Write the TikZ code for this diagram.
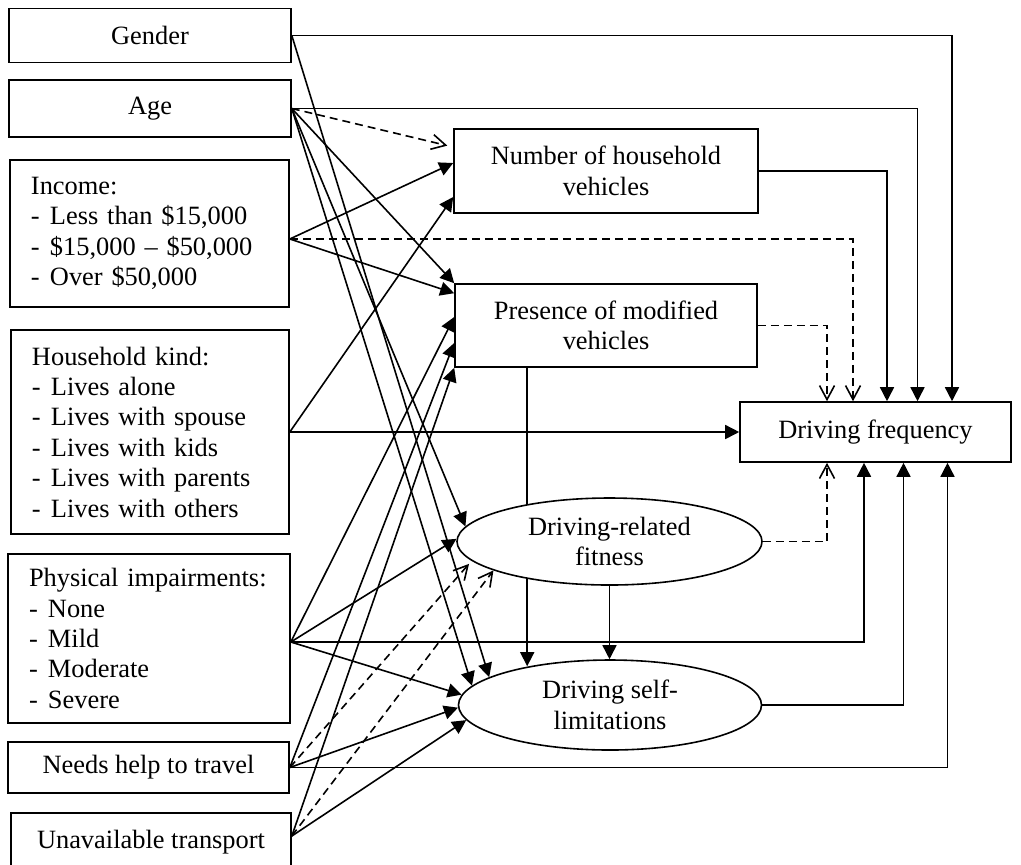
\documentclass[tikz,border=0pt]{standalone}
\usepackage{fontspec}
\setmainfont{Liberation Serif}
\usetikzlibrary{arrows.meta,shapes.geometric,backgrounds}
\newcommand{\dashitem}{\makebox[9.5pt][l]{-}}

\begin{document}
\begin{tikzpicture}[x=0.5pt,y=-0.5pt,
  font=\fontsize{13.2}{15.2}\selectfont,
  box/.style={draw,line width=0.8pt,minimum width=141pt,minimum height=27pt,inner sep=0pt,align=center},
  listbox/.style={draw,line width=0.8pt,inner xsep=10.5pt,inner ysep=0pt,align=left},
  oval/.style={draw,ellipse,line width=0.8pt,fill=white,inner sep=0pt,align=center},
  arr/.style={line width=0.8pt,-{Triangle[length=7pt,width=7pt]}},
  darr/.style={line width=0.8pt,dash pattern=on 4pt off 2.5pt,-{Straight Barb[length=7pt,width=7.5pt]}}]
\clip (0,0) rectangle (1021,864);
% left column
\node[box] (gender) at (150,35.5) {Gender};
\node[box,minimum height=28.5pt] (age) at (150,108.5) {Age};
\node[listbox,text width=118.5pt,minimum height=73.5pt] (income) at (149.5,233.5)
  {Income:\\\dashitem Less than \$15,000\\\dashitem \$15,000 -- \$50,000\\\dashitem Over \$50,000};
\node[listbox,text width=118pt,minimum height=102pt] (household) at (150,432)
  {Household kind:\\\dashitem Lives alone\\\dashitem Lives with spouse\\\dashitem Lives with kids\\\dashitem Lives with parents\\\dashitem Lives with others};
\node[listbox,text width=120pt,minimum height=84.5pt] (physical) at (149,638.5)
  {Physical impairments:\\\dashitem None\\\dashitem Mild\\\dashitem Moderate\\\dashitem Severe};
\node[box,minimum width=140.5pt,minimum height=25.5pt] (help) at (148.5,767.5) {Needs help to travel};
\node[box,minimum width=140pt,minimum height=29pt] (transport) at (151,842) {Unavailable transport};
% middle and right
\node[box,minimum width=152pt,minimum height=42pt] (vehicles) at (606,171) {Number of household\\vehicles};
\node[box,minimum width=151pt,minimum height=41.5pt] (modified) at (606,325.5) {Presence of modified\\vehicles};
\node[oval,minimum width=152.5pt,minimum height=43.5pt] (fitness) at (609.5,541.5) {Driving-related\\fitness};
\node[oval,minimum width=151.5pt,minimum height=45pt] (selflim) at (610,705) {Driving self-\\limitations};
\node[box,minimum width=135.5pt,minimum height=30pt] (frequency) at (875.5,432) {Driving frequency};

\coordinate (inc) at ([yshift=-2.75pt]income.east);
\coordinate (phys) at ([yshift=-1.75pt]physical.east);
\coordinate (trans) at ([yshift=3pt]transport.east);
\coordinate (drop) at ([xshift=36.5pt]modified.south west);

\begin{scope}[on background layer]
% into driving frequency
\draw[arr] (gender.east) -| ([xshift=38.25pt]frequency.north);
\draw[arr] (age.east) -| ([xshift=21pt]frequency.north);
\draw[arr] (vehicles.east) -| ([xshift=5.75pt]frequency.north);
\draw[darr] (inc) -| ([xshift=-11.25pt]frequency.north);
\draw[darr] (modified.east) -| ([xshift=-24.25pt]frequency.north);
\draw[arr] (household.east) -- (frequency.west);
\draw[darr] (fitness.east) -| ([xshift=-24.25pt]frequency.south);
\draw[arr] (phys) -| ([xshift=-5.75pt]frequency.south);
\draw[arr] (selflim.east) -| ([xshift=14pt]frequency.south);
\draw[arr] (help.east) -| ([xshift=36pt]frequency.south);
% into the vehicle boxes
\draw[darr,shorten >=3pt] (age.east) -- ([yshift=12pt]vehicles.west);
\draw[arr] (inc) -- ([yshift=4pt]vehicles.west);
\draw[arr] (household.east) -- ([yshift=-13pt]vehicles.west);
\draw[arr] (age.east) -- (modified.north west);
\draw[arr] (inc) -- ([yshift=-5pt]modified.north west);
\draw[arr] (phys) -- ([yshift=4.25pt]modified.west);
\draw[arr] (help.east) -- ([yshift=-8.75pt]modified.west);
\draw[arr] (trans) -- (modified.south west);
% into the ellipses
\draw[arr] (age.east) -- (fitness.174);
\draw[arr] (phys) -- (fitness.179);
\draw[darr,shorten >=2pt] (help.east) -- (fitness.188);
\draw[darr] (trans) -- (fitness.194);
\draw[arr] (gender.east) -- (selflim.167);
\draw[arr] (age.east) -- (selflim.172);
\draw[arr] (phys) -- (selflim.176);
\draw[arr] (help.east) -- (selflim.181);
\draw[arr] (trans) -- (selflim.186);
\draw[arr,shorten >=-3.5pt] (drop) -- (drop |- selflim.north);
\draw[arr] (fitness.south) -- (fitness.south |- selflim.north);
\end{scope}
\end{tikzpicture}
\end{document}
